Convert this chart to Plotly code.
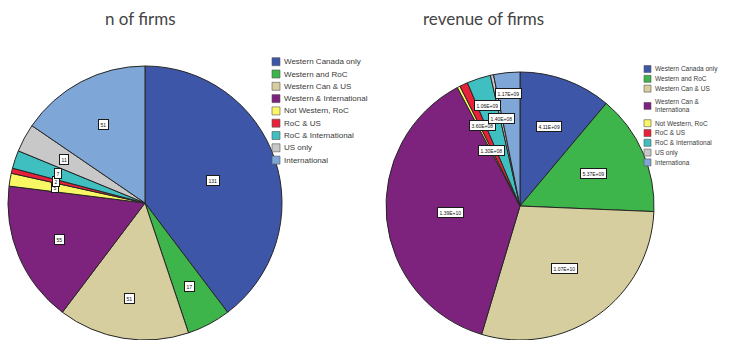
import math
import plotly.graph_objects as go

W, H = 747, 340

# Number of firms by market group
firm_labels = [
    "Western Canada only", "Western and RoC", "Western Can & US",
    "Western & International", "Not Western, RoC", "RoC & US",
    "RoC & International", "US only", "International",
]
firm_counts = [131, 17, 51, 55, 5, 2, 7, 11, 51]

# Revenue of firms by market group
revenue_labels = [
    "Western Canada only", "Western and RoC", "Western Can & US",
    "Western Can &<br>Internationa", "Not Western, RoC", "RoC & US",
    "RoC & International", "US only", "Internationa",
]
revenue_values = [4.11e9, 5.37e9, 1.07e10, 1.39e10, 1.30e8, 3.60e8, 1.06e9, 1.40e8, 1.17e9]

slice_colors = [
    "#3E56A8", "#3DB54A", "#D6CE9E", "#7D237D", "#FAF764",
    "#E8203A", "#3FBFBF", "#C8C8C8", "#7EA6D7",
]

# pie geometry in pixels: centre x, centre y, radius
LEFT_PIE = (145, 203, 137)
RIGHT_PIE = (520, 206, 134)

# distance of each value box from the centre, as a share of the radius
left_label_radius = [0.52, 0.69, 0.71, 0.68, 0.67, 0.67, 0.67, 0.67, 0.65]
right_label_radius = [0.63, 0.60, 0.57, 0.52, 0.47, 0.66, 0.79, 0.67, 0.84]


def px_x(x):
    return x / W


def px_y(y):
    return 1 - y / H


fig = go.Figure()
annotations = []
shapes = []


def add_pie(labels, values, geom, name):
    cx, cy, r = geom
    fig.add_trace(go.Pie(
        labels=labels,
        values=values,
        name=name,
        sort=False,
        direction="clockwise",
        rotation=0,
        textinfo="none",
        hoverinfo="label+value+percent",
        showlegend=False,
        marker=dict(colors=slice_colors, line=dict(color="#262626", width=1)),
        domain=dict(x=[px_x(cx - r), px_x(cx + r)], y=[max(0, px_y(cy + r)), px_y(cy - r)]),
    ))


def add_value_boxes(values, texts, geom, fracs, size):
    cx, cy, r = geom
    total = float(sum(values))
    start = 0.0
    for v, t, f in zip(values, texts, fracs):
        mid = (start + v / 2) / total * 2 * math.pi
        start += v
        x = cx + f * r * math.sin(mid)
        y = cy - f * r * math.cos(mid)
        annotations.append(dict(
            x=px_x(x), y=px_y(y), xref="paper", yref="paper",
            text=t, showarrow=False,
            font=dict(family="Liberation Sans, Arial", size=size, color="#111"),
            bgcolor="white", bordercolor="#1a1a1a", borderwidth=1, borderpad=1.5,
            xanchor="center", yanchor="middle",
        ))


def add_key(labels, x0, y0, step, extra, box, size):
    y = y0
    prev_h = None
    for lab, col in zip(labels, slice_colors):
        lines = lab.count("<br>") + 1
        h = step + (lines - 1) * extra
        if prev_h is not None:
            y += (prev_h + h) / 2
        prev_h = h
        shapes.append(dict(
            type="rect", xref="paper", yref="paper",
            x0=px_x(x0), x1=px_x(x0 + box),
            y0=px_y(y + box / 2), y1=px_y(y - box / 2),
            fillcolor=col, line=dict(color="#555", width=0.6),
        ))
        annotations.append(dict(
            x=px_x(x0 + box + 2), y=px_y(y), xref="paper", yref="paper",
            text=lab, showarrow=False, align="left",
            font=dict(family="Liberation Sans, Arial", size=size, color="#3a3a3a"),
            xanchor="left", yanchor="middle",
        ))


add_pie(firm_labels, firm_counts, LEFT_PIE, "n of firms")
add_pie(revenue_labels, revenue_values, RIGHT_PIE, "revenue of firms")

add_value_boxes(firm_counts, [str(v) for v in firm_counts], LEFT_PIE, left_label_radius, 5)
add_value_boxes(revenue_values, [f"{v:.2E}" for v in revenue_values], RIGHT_PIE, right_label_radius, 5)

add_key(firm_labels, 272, 61.7, 12.3, 0, 8, 8)
add_key(revenue_labels, 644, 69, 9.8, 15, 7, 6.5)

for title, cx in (("n of firms", 140), ("revenue of firms", 483)):
    annotations.append(dict(
        x=px_x(cx), y=px_y(18), xref="paper", yref="paper",
        text=title, showarrow=False,
        font=dict(family="Lato, Open Sans", size=17, color="#444"),
        xanchor="center", yanchor="middle",
    ))

fig.update_layout(
    width=W, height=H,
    margin=dict(l=0, r=0, t=0, b=0),
    paper_bgcolor="white", plot_bgcolor="white",
    annotations=annotations, shapes=shapes,
)

fig.write_html("out.html")
